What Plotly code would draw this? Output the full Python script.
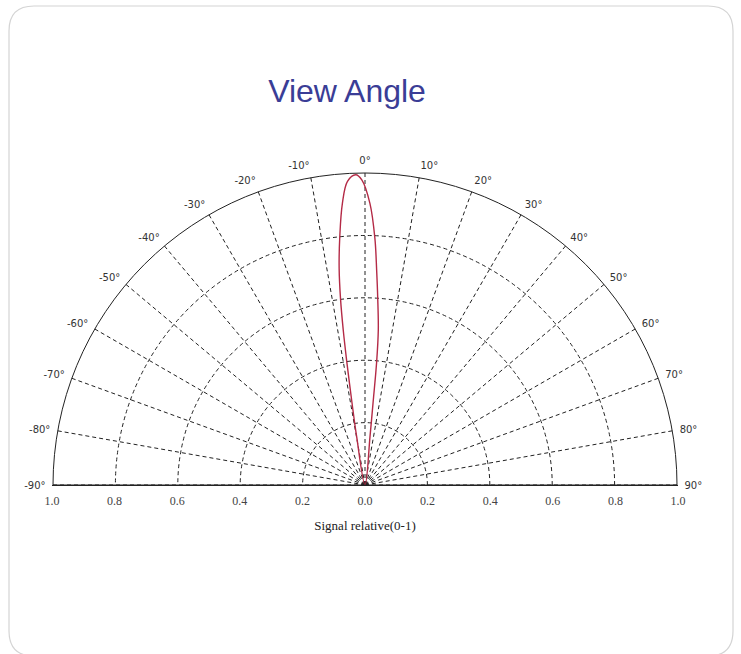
import plotly.graph_objects as go

# ---- data ----
angle_ticks = list(range(-90, 91, 10))
angle_labels = [f"{a}°" for a in angle_ticks]
radial_grid = [0.2, 0.4, 0.6, 0.8]
signal_ticks = [-1.0, -0.8, -0.6, -0.4, -0.2, 0.0, 0.2, 0.4, 0.6, 0.8, 1.0]
signal_labels = ["1.0", "0.8", "0.6", "0.4", "0.2", "0.0", "0.2", "0.4", "0.6", "0.8", "1.0"]

lobe_theta = [-12.0, -9.8, -9.0, -8.4, -8.0, -7.5, -6.8, -5.8, -4.6, -3.3, -1.7,
              -0.6, 1.0, 2.3, 3.1, 3.9, 4.9, 5.4, 5.6, 5.9, 8.0]
lobe_signal = [0.0, 0.157, 0.266, 0.40, 0.50, 0.60, 0.70, 0.80, 0.905, 0.975, 0.995,
               0.978, 0.903, 0.791, 0.69, 0.60, 0.499, 0.397, 0.264, 0.156, 0.0]

W, H = 741, 654
# polar domain in pixels
px0, px1 = 52, 678
py_top, py_bot = 173, 485
dom_x = [px0 / W, px1 / W]
dom_y = [1 - py_bot / H, 1 - py_top / H]

fig = go.Figure()

fig.add_trace(go.Scatterpolar(
    r=lobe_signal, theta=lobe_theta, mode="lines",
    line=dict(color="#b42a46", width=1.4, shape="spline"),
    hoverinfo="skip", showlegend=False,
))

# helper trace so the cartesian axis (diameter line + signal labels) is drawn
fig.add_trace(go.Scatter(
    x=[signal_ticks[0], signal_ticks[-1]], y=[0, 0], mode="markers",
    marker=dict(opacity=0), hoverinfo="skip", showlegend=False,
    xaxis="x", yaxis="y",
))

grid_dash = "4px,3px"
fig.update_layout(
    width=W, height=H, autosize=False,
    margin=dict(l=0, r=0, t=0, b=0, pad=0, autoexpand=False),
    paper_bgcolor="white", plot_bgcolor="rgba(0,0,0,0)",
    showlegend=False,
    polar=dict(
        domain=dict(x=dom_x, y=dom_y),
        sector=[0, 180],
        bgcolor="rgba(0,0,0,0)",
        angularaxis=dict(
            rotation=90, direction="clockwise",
            tickmode="array", tickvals=angle_ticks, ticktext=angle_labels,
            showline=True, linecolor="#222", linewidth=1,
            showgrid=True, gridcolor="#222", gridwidth=1, griddash=grid_dash,
            ticks="outside", ticklen=5, tickcolor="rgba(0,0,0,0)",
            tickfont=dict(family="DejaVu Sans", size=10, color="#333"),
        ),
        radialaxis=dict(
            range=[0, 1], tickmode="array", tickvals=radial_grid,
            showticklabels=False, showline=False, ticks="",
            showgrid=True, gridcolor="#222", gridwidth=1, griddash=grid_dash,
        ),
    ),
    xaxis=dict(
        domain=dom_x, range=[signal_ticks[0], signal_ticks[-1]], anchor="y",
        tickmode="array", tickvals=signal_ticks, ticktext=signal_labels,
        showline=True, linecolor="#222", linewidth=1, automargin=False,
        showgrid=False, zeroline=False, ticks="", ticklabelstandoff=5,
        tickfont=dict(family="Liberation Serif", size=12, color="#444"),
        title=dict(text="Signal relative(0-1)", standoff=13,
                   font=dict(family="Liberation Serif", size=13, color="#222")),
        fixedrange=True,
    ),
    yaxis=dict(domain=dom_y, range=[0, 1], visible=False, fixedrange=True,
               automargin=False),
    title=dict(text="View Angle", x=347 / W, xanchor="center",
               y=1 - 91 / H, yanchor="middle", automargin=False,
               font=dict(family="Liberation Sans", size=32, color="#3a3d96")),
)

# rounded slide border
x0, x1 = 9 / W, 733 / W
yt, yb = 1 - 6 / H, 1 - 656 / H
rx, ry = 25 / W, 25 / H
path = (f"M {x0+rx},{yt} L {x1-rx},{yt} Q {x1},{yt} {x1},{yt-ry} "
        f"L {x1},{yb+ry} Q {x1},{yb} {x1-rx},{yb} L {x0+rx},{yb} "
        f"Q {x0},{yb} {x0},{yb+ry} L {x0},{yt-ry} Q {x0},{yt} {x0+rx},{yt} Z")
fig.add_shape(type="path", path=path, xref="paper", yref="paper",
              line=dict(color="#d4d4d4", width=1.2), layer="below")

fig.write_html("out.html", config={"displayModeBar": False},
               post_script="document.body.style.margin='0';document.body.style.overflow='hidden';")
